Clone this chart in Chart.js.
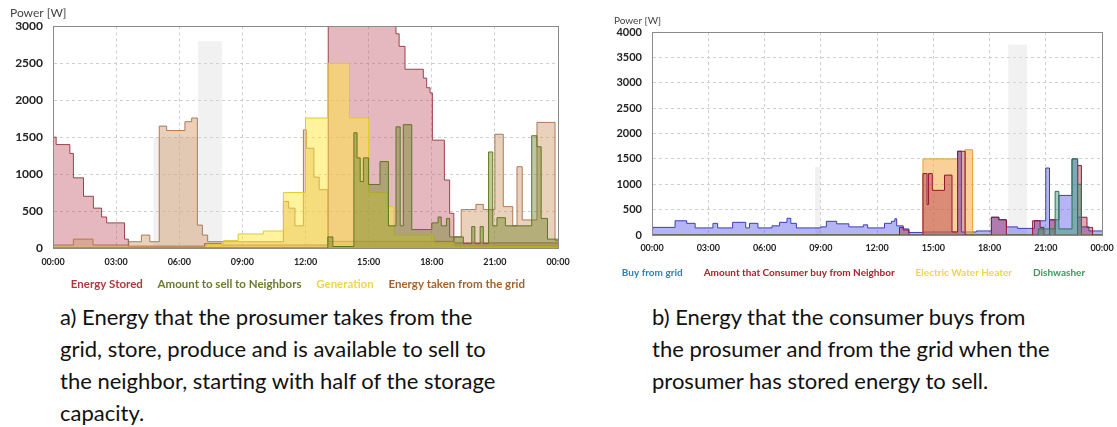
<!DOCTYPE html>
<html><head><meta charset="utf-8">
<script src="https://cdn.jsdelivr.net/npm/chart.js@4.4.1/dist/chart.umd.min.js"></script>
<style>
html,body{margin:0;padding:0;background:#fff;width:1117px;height:427px;overflow:hidden;}
.box{position:absolute;}
.cap{position:absolute;font-family:Lato,sans-serif;font-size:22px;line-height:32px;color:#111;white-space:nowrap;}
</style></head><body>
<div class="box" style="left:0;top:0;width:575px;height:300px"><canvas id="ca"></canvas></div>
<div class="box" style="left:600px;top:0;width:517px;height:288px"><canvas id="cb"></canvas></div>
<div class="cap" style="left:60px;top:301px">a) Energy that the prosumer takes from the<br>grid, store, produce and is available to sell to<br>the neighbor, starting with half of the storage<br>capacity.</div>
<div class="cap" style="left:652px;top:301px">b) Energy that the consumer buys from<br>the prosumer and from the grid when the<br>prosumer has stored energy to sell.</div>
<script>
// ---------- Chart a data (hours, W) ----------
const storedT = [0, 0.15, 0.8, 0.97, 1.45, 1.92, 2.31, 2.55, 3.4, 3.58, 7.2, 8.0, 13.08, 16.3, 16.45, 16.73, 17.6, 17.76, 17.92, 18.03, 18.6, 18.85, 19.05, 24];
const storedV = [1500, 1400, 1280, 950, 700, 540, 420, 340, 120, 25, 60, 40, 3000, 2900, 2730, 2420, 2300, 2170, 2100, 1460, 920, 470, 70, 70];
const sellT = [0, 13.06, 13.3, 14.3, 14.45, 14.6, 14.75, 15.0, 15.54, 15.94, 16.3, 16.5, 16.65, 17.05, 18.0, 18.3, 18.45, 18.7, 18.85, 19.5, 19.9, 20.05, 20.3, 20.45, 20.7, 20.9, 21.1, 21.5, 22.75, 23.0, 23.2, 23.5, 24];
const sellV = [0, 150, 20, 1560, 1220, 900, 1220, 860, 1170, 300, 1640, 300, 1670, 250, 340, 420, 300, 400, 150, 60, 290, 60, 290, 60, 1300, 300, 410, 300, 1520, 1370, 400, 120, 120];
const genT = [0, 7.3, 8.1, 8.8, 10.0, 10.95, 12.0, 13.06, 14.09, 15.0, 15.9, 16.2, 18.1, 19.07, 24];
const genV = [10, 50, 100, 190, 230, 750, 1760, 2500, 1760, 750, 560, 175, 70, 20, 20];
const gridT = [0, 0.97, 1.9, 3.6, 4.2, 4.6, 5.05, 5.4, 6.27, 6.59, 6.86, 7.1, 7.35, 10.95, 11.2, 11.5, 11.9, 12.05, 12.4, 12.65, 13.06, 19.07, 19.4, 20.1, 20.45, 21.0, 21.4, 21.85, 22.05, 22.3, 22.75, 23.0, 23.86, 24];
const gridV = [40, 120, 40, 85, 175, 85, 1650, 1590, 1710, 1760, 310, 175, 85, 630, 540, 300, 1600, 1350, 960, 790, 90, 150, 520, 590, 520, 1540, 560, 300, 1100, 380, 380, 1700, 100, 100];
const bandAT = [0, 4.77, 6.9, 8.03, 24];
const bandAV = [0, 1500, 2800, 0, 0];
const labelsA = ['Energy Stored', 'Amount to sell to Neighbors', 'Generation', 'Energy taken from the grid'];

// ---------- Chart b data (hours, W) ----------
const buyT = [0, 0.05, 1.23, 1.85, 2.3, 3.25, 3.5, 4.3, 5.0, 5.2, 5.65, 6.4, 6.8, 7.2, 7.4, 7.7, 9.0, 9.3, 9.85, 10.5, 11.27, 11.5, 12.4, 12.77, 12.95, 13.05, 13.4, 13.7, 14.5, 16.3, 16.5, 17.3, 18.1, 18.5, 18.9, 19.5, 20.4, 21.0, 21.2, 21.5, 21.7, 22.4, 22.7, 22.9, 23.3, 24];
const buyV = [120, 150, 280, 230, 140, 230, 140, 250, 140, 230, 140, 180, 250, 330, 230, 140, 160, 270, 220, 160, 200, 140, 230, 270, 320, 180, 120, 50, 60, 1650, 60, 80, 350, 300, 160, 130, 280, 1320, 300, 300, 780, 1500, 350, 160, 80, 80];
const nbT = [0, 13.2, 13.4, 13.7, 14.45, 14.67, 14.75, 14.95, 15.6, 16.0, 16.3, 16.7, 18.1, 18.5, 18.9, 20.3, 20.7, 20.9, 21.2, 21.5, 22.7, 22.9, 23.2, 23.5, 24];
const nbV = [0, 150, 100, 0, 1210, 600, 1210, 880, 1180, 60, 1650, 0, 350, 300, 0, 280, 150, 0, 300, 0, 1370, 350, 150, 0, 0];
const whT = [0, 14.45, 16.3, 16.7, 17.1, 24];
const whV = [0, 1500, 0, 1680, 0, 0];
const dwT = [0, 20.6, 21.5, 21.7, 22.4, 22.7, 22.9, 24];
const dwV = [0, 120, 860, 120, 1500, 1000, 0, 0];
const bandBT = [0, 8.7, 8.97, 19.0, 20.0, 24];
const bandBV = [0, 1340, 0, 3750, 0, 0];
const labelsB = ['Buy from grid', 'Amount that Consumer buy from Neighbor', 'Electric Water Heater', 'Dishwasher'];

const hourTicks = [0, 3, 6, 9, 12, 15, 18, 21, 24];

function pts(T, V) { return T.map((t, i) => ({x: t, y: V[i]})); }
function ds(label, T, V, fill, line, legendColor) {
  return {label, data: pts(T, V), stepped: true, fill: 'origin', backgroundColor: fill,
    borderColor: line, borderWidth: 1, pointRadius: 0, legendColor};
}
const frame = {
  id: 'frame',
  afterDatasetsDraw(chart, args, o) {
    const {ctx, chartArea: a} = chart;
    ctx.save(); ctx.strokeStyle = o.color || '#888'; ctx.lineWidth = 1;
    ctx.strokeRect(Math.round(a.left) + 0.5, Math.round(a.top) + 0.5, Math.round(a.right - a.left), Math.round(a.bottom - a.top));
    ctx.restore();
  }
};
const blockShift = {
  id: 'blockShift',
  afterLayout(chart, args, o) {
    const l = chart.legend, t = chart.titleBlock;
    if (l && o.legendDx) { l.left += o.legendDx; l.right += o.legendDx; }
    if (t && o.titleDx) { t.left += o.titleDx; t.right += o.titleDx; }
  }
};
function opts(cfg) {
  return {
    responsive: true, maintainAspectRatio: false, animation: false,
    layout: {padding: cfg.pad},
    plugins: {
      tooltip: {enabled: false},
      title: {display: true, text: 'Power [W]', align: 'start', color: '#444',
        font: {family: 'Lato', size: cfg.titleSize, weight: 'normal'}, padding: cfg.titlePad},
      legend: {position: 'bottom', align: 'center',
        labels: {boxWidth: 0, boxHeight: 0, padding: cfg.legPad, font: {family: 'Lato', size: cfg.legSize, weight: 'bold'},
          generateLabels: (chart) => cfg.order.map(name => {
            const i = chart.data.datasets.findIndex(d => d.label === name);
            const d = chart.data.datasets[i];
            return {text: d.label, fontColor: d.legendColor, fillStyle: 'rgba(0,0,0,0)', strokeStyle: 'rgba(0,0,0,0)',
              lineWidth: 0, hidden: false, datasetIndex: i};
          })}},
      frame: {color: '#8a8a8a'},
      blockShift: {legendDx: cfg.legDx, titleDx: cfg.titleDx}
    },
    scales: {
      x: {type: 'linear', min: 0, max: 24,
        afterBuildTicks: s => { s.ticks = hourTicks.map(v => ({value: v})); },
        afterFit: s => { s.height = cfg.xh; s.paddingLeft = 0; s.paddingRight = 0; },
        grid: {color: '#cfcfcf', drawTicks: false}, border: {color: '#777', dash: [3, 3]},
        ticks: {autoSkip: false, maxRotation: 0, padding: cfg.xPad, color: '#222',
          font: {family: 'Lato', size: cfg.xSize, weight: 'bold'},
          callback: v => String(v % 24).padStart(2, '0') + ':00'}},
      y: {min: 0, max: cfg.ymax,
        afterFit: s => { s.width = cfg.yw; s.paddingTop = 0; s.paddingBottom = 0; },
        grid: {color: '#cfcfcf', drawTicks: false}, border: {color: '#777', dash: [3, 3]},
        ticks: {stepSize: 500, padding: cfg.yPad, color: '#222', font: {family: 'Lato', size: cfg.ySize, weight: 'bold'},
          callback: v => String(v)}}
    }
  };
}

new Chart(document.getElementById('ca'), {
  type: 'line',
  data: {datasets: [
    ds(labelsA[1], sellT, sellV, 'rgba(110,130,40,0.45)', 'rgba(90,115,25,0.95)', '#6d7a2c'),
    ds(labelsA[2], genT, genV, 'rgba(255,232,60,0.5)', 'rgba(225,205,30,1)', '#efd64a'),
    ds(labelsA[3], gridT, gridV, 'rgba(205,145,95,0.42)', 'rgba(170,110,70,0.9)', '#a5632c'),
    ds(labelsA[0], storedT, storedV, 'rgba(190,85,100,0.42)', 'rgba(150,50,60,0.9)', '#a83c3c'),
    ds('', bandAT, bandAV, 'rgba(215,215,215,0.35)', 'rgba(0,0,0,0)', '#fff')
  ]},
  options: opts({pad: {left: 10, right: 17, top: 0, bottom: 0}, titleSize: 12, titlePad: {top: 6, bottom: 6}, titleDx: 0,
    legPad: 9, legSize: 11.5, legDx: 11, order: labelsA, xh: 21.5, xPad: 9, xSize: 9, ymax: 3000, yw: 43, yPad: 10, ySize: 12}),
  plugins: [frame, blockShift]
});

new Chart(document.getElementById('cb'), {
  type: 'line',
  data: {datasets: [
    ds(labelsB[3], dwT, dwV, 'rgba(60,150,110,0.45)', 'rgba(40,120,80,1)', '#3d9a5c'),
    ds(labelsB[1], nbT, nbV, 'rgba(170,40,70,0.4)', 'rgba(150,20,50,1)', '#b0202c'),
    ds(labelsB[2], whT, whV, 'rgba(245,170,70,0.55)', 'rgba(230,160,40,1)', '#f2d450'),
    ds(labelsB[0], buyT, buyV, 'rgba(100,100,235,0.48)', 'rgba(60,60,190,1)', '#2f7fb5'),
    ds('', bandBT, bandBV, 'rgba(225,225,225,0.45)', 'rgba(0,0,0,0)', '#fff')
  ]},
  options: opts({pad: {left: 0, right: 15, top: 0, bottom: 0}, titleSize: 10, titlePad: {top: 15, bottom: 5}, titleDx: 14,
    legPad: 16, legSize: 10, legDx: 0, order: labelsB, xh: 17, xPad: 8, xSize: 9, ymax: 4000, yw: 52, yPad: 10, ySize: 11}),
  plugins: [frame, blockShift]
});
</script>
</body></html>
